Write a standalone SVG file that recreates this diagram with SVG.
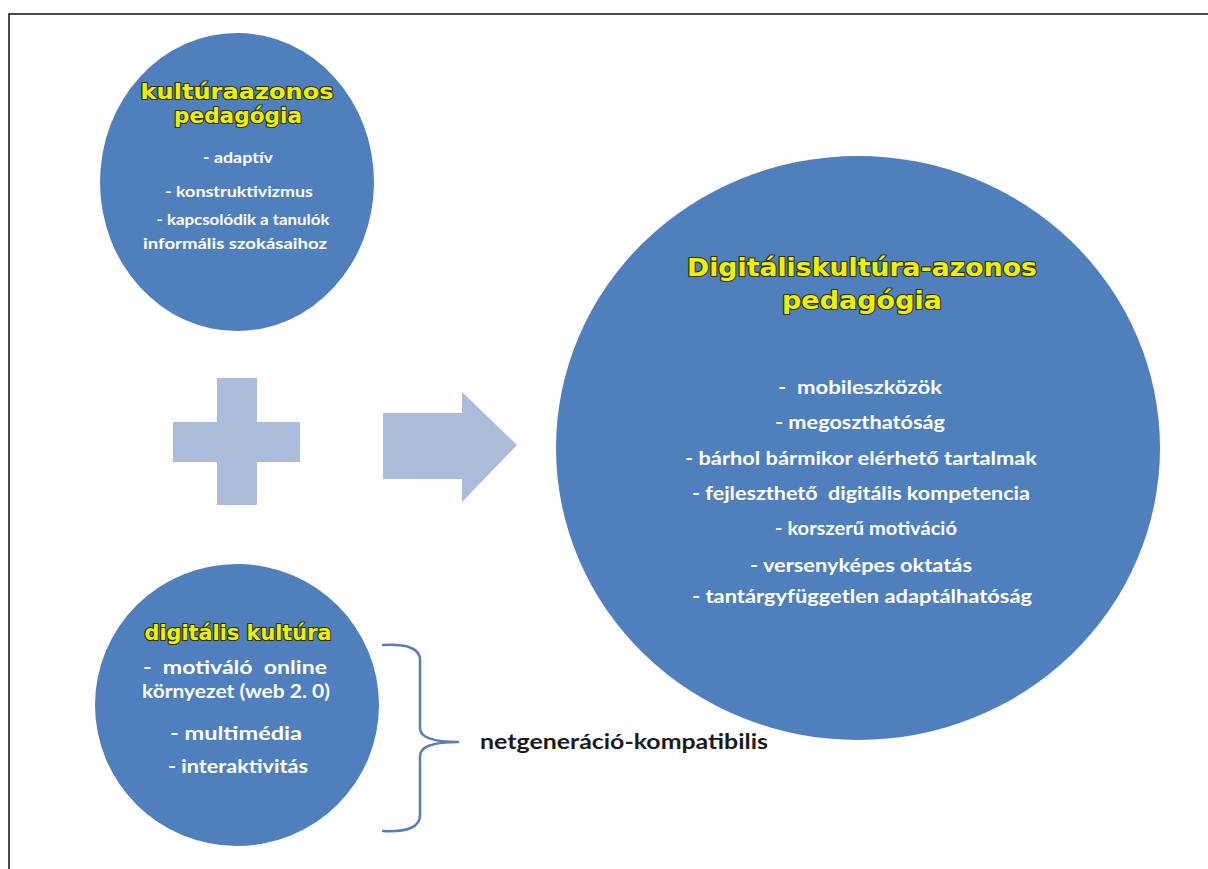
<svg xmlns="http://www.w3.org/2000/svg" width="1208" height="869" viewBox="0 0 1208 869">
  <defs>
    <style>
      .circ { fill: #4f80bd; }
      .shape { fill: #aabcda; }
      .title { font-family: "DejaVu Sans", "Liberation Sans", sans-serif; font-weight: bold; fill: #eef200; stroke: #2e3010; stroke-width: 2.2; paint-order: stroke; stroke-linejoin: round; text-anchor: middle; }
      .item { font-family: Lato, "Liberation Sans", sans-serif; font-weight: bold; fill: #ffffff; text-anchor: middle; white-space: pre; }
      .label { font-family: Lato, "Liberation Sans", sans-serif; font-weight: bold; fill: #1a1a1a; white-space: pre; }
      .brace { fill: none; stroke: #5b7bb5; stroke-width: 2.5; stroke-linecap: round; stroke-linejoin: round; }
      .frame { fill: none; stroke: #111111; stroke-width: 1.5; }
    </style>
  </defs>
  <rect x="0" y="0" width="1208" height="869" fill="#ffffff"/>
  <path class="frame" d="M9,869 L9,14 L1208,14"/>

  <g id="node-kulturaazonos">
    <ellipse class="circ" cx="237" cy="182" rx="137" ry="149"/>
    <text class="title" x="237" y="99" font-size="22" textLength="193" lengthAdjust="spacingAndGlyphs">kultúraazonos</text>
    <text class="title" x="238" y="123" font-size="22" textLength="128" lengthAdjust="spacingAndGlyphs">pedagógia</text>
    <text class="item" x="238" y="163" font-size="15" textLength="70" lengthAdjust="spacingAndGlyphs">- adaptív</text>
    <text class="item" x="239" y="197" font-size="15" textLength="148" lengthAdjust="spacingAndGlyphs">- konstruktivizmus</text>
    <text class="item" x="243" y="225" font-size="15" textLength="173" lengthAdjust="spacingAndGlyphs">- kapcsolódik a tanulók</text>
    <text class="item" x="235" y="249" font-size="15" textLength="184" lengthAdjust="spacingAndGlyphs">informális szokásaihoz</text>
  </g>

  <g id="node-digitalis-kultura">
    <ellipse class="circ" cx="237" cy="705" rx="142" ry="141"/>
    <text class="title" x="238" y="640" font-size="21" textLength="187" lengthAdjust="spacingAndGlyphs">digitális kultúra</text>
    <text class="item" x="235" y="674" font-size="18" textLength="184" lengthAdjust="spacingAndGlyphs">-  motiváló  online</text>
    <text class="item" x="236" y="698" font-size="18" textLength="188" lengthAdjust="spacingAndGlyphs">környezet (web 2. 0)</text>
    <text class="item" x="236" y="740" font-size="18" textLength="132" lengthAdjust="spacingAndGlyphs">- multimédia</text>
    <text class="item" x="238" y="773" font-size="18" textLength="140" lengthAdjust="spacingAndGlyphs">- interaktivitás</text>
  </g>

  <g id="node-digitaliskultura-azonos">
    <ellipse class="circ" cx="858" cy="448" rx="302" ry="292"/>
    <text class="title" x="862" y="276" font-size="25" textLength="350" lengthAdjust="spacingAndGlyphs">Digitáliskultúra-azonos</text>
    <text class="title" x="862" y="309" font-size="25" textLength="160" lengthAdjust="spacingAndGlyphs">pedagógia</text>
    <text class="item" x="860" y="394" font-size="18" textLength="164" lengthAdjust="spacingAndGlyphs">-  mobileszközök</text>
    <text class="item" x="860" y="429" font-size="18" textLength="170" lengthAdjust="spacingAndGlyphs">- megoszthatóság</text>
    <text class="item" x="861" y="465" font-size="18" textLength="352" lengthAdjust="spacingAndGlyphs">- bárhol bármikor elérhető tartalmak</text>
    <text class="item" x="861" y="500" font-size="18" textLength="338" lengthAdjust="spacingAndGlyphs">- fejleszthető  digitális kompetencia</text>
    <text class="item" x="866" y="535" font-size="18" textLength="182" lengthAdjust="spacingAndGlyphs">- korszerű motiváció</text>
    <text class="item" x="861" y="572" font-size="18" textLength="222" lengthAdjust="spacingAndGlyphs">- versenyképes oktatás</text>
    <text class="item" x="862" y="603" font-size="18" textLength="340" lengthAdjust="spacingAndGlyphs">- tantárgyfüggetlen adaptálhatóság</text>
  </g>

  <g id="node-plus">
    <path class="shape" d="M217,378 L257,378 L257,422 L300,422 L300,462 L257,462 L257,505 L217,505 L217,462 L173,462 L173,422 L217,422 Z"/>
  </g>

  <g id="connectors">
    <path id="arrow" class="shape" d="M383,413 L462,413 L462,392 L517,445 L462,502 L462,479 L383,479 Z"/>
    <path id="brace" class="brace" d="M383,645 Q420,643 420,660 L420,728 Q420,742 458,742 Q420,742 420,756 L420,815 Q420,833 383,831"/>
  </g>

  <g id="node-netgeneracio">
    <text class="label" x="480" y="749" font-size="20" textLength="288" lengthAdjust="spacingAndGlyphs">netgeneráció-kompatibilis</text>
  </g>
</svg>
